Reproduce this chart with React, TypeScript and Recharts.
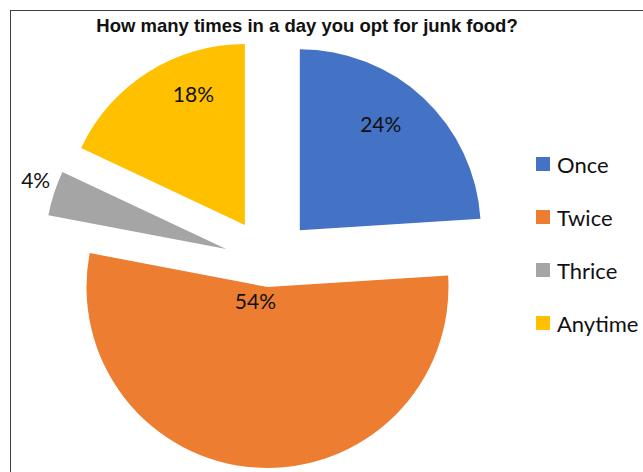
import { Cell, Pie, PieChart } from "recharts";

const categories = ["Once", "Twice", "Thrice", "Anytime"];
const shares = [24, 54, 4, 18];
const colors = ["#4472C4", "#ED7D31", "#A5A5A5", "#FFC000"];

const data = categories.map((name, i) => ({ name, value: shares[i] }));

// layout (Excel-style exploded pie)
const CENTER = { x: 269, y: 263 };
const RADIUS = 181;
const explode = [45, 24, 45, 45];
// label radius as fraction of outer radius, plus angle shift (deg, clockwise)
const labelPlacement = [
  { r: 0.74, shift: -6 },
  { r: 0.1, shift: 38 },
  { r: 1.12, shift: 2 },
  { r: 0.78, shift: 11 },
];

const total = shares.reduce((a, b) => a + b, 0);
const rad = (deg: number) => (deg * Math.PI) / 180;

// mid angle of each slice, clockwise from 12 o'clock
const midAngles = shares.map((v, i) => {
  const before = shares.slice(0, i).reduce((a, b) => a + b, 0);
  return ((before + v / 2) / total) * 360;
});

const centers = midAngles.map((a, i) => ({
  x: CENTER.x + explode[i] * Math.sin(rad(a)),
  y: CENTER.y - explode[i] * Math.cos(rad(a)),
}));

function makeLabel(target: number) {
  return (props: any) => {
    if (props.index !== target) return null;
    const { r, shift } = labelPlacement[target];
    const a = rad(midAngles[target] + shift);
    const x = centers[target].x + RADIUS * r * Math.sin(a);
    const y = centers[target].y - RADIUS * r * Math.cos(a);
    return (
      <text
        x={x}
        y={y}
        textAnchor="middle"
        dominantBaseline="central"
        fill="#111"
        fontFamily="Lato, sans-serif"
        fontSize={21}
      >
        {`${shares[target]}%`}
      </text>
    );
  };
}

export default function App() {
  return (
    <div
      style={{
        position: "absolute",
        left: 0,
        top: 0,
        width: 643,
        height: 472,
        overflow: "hidden",
        background: "#fff",
      }}
    >
      <div
        style={{
          position: "absolute",
          left: 10,
          top: 10,
          width: 700,
          height: 600,
          border: "1.5px solid #404040",
        }}
      />
      <div
        style={{
          position: "absolute",
          left: 0,
          top: 15.6,
          width: 614,
          textAlign: "center",
          fontFamily: "'Liberation Sans', Arial, sans-serif",
          fontWeight: 700,
          fontSize: 18.5,
          lineHeight: "20px",
          color: "#111",
          whiteSpace: "nowrap",
        }}
      >
        How many times in a day you opt for junk food?
      </div>

      <div style={{ position: "absolute", left: 0, top: 0 }}>
        <PieChart width={643} height={472} margin={{ top: 0, right: 0, bottom: 0, left: 0 }}>
          {categories.map((_, target) => (
            <Pie
              key={target}
              data={data}
              dataKey="value"
              nameKey="name"
              cx={centers[target].x}
              cy={centers[target].y}
              outerRadius={RADIUS}
              startAngle={90}
              endAngle={-270}
              stroke="none"
              isAnimationActive={false}
              labelLine={false}
              label={makeLabel(target)}
              legendType="none"
            >
              {data.map((_, i) => (
                <Cell key={i} fill={i === target ? colors[i] : "transparent"} />
              ))}
            </Pie>
          ))}
        </PieChart>
      </div>

      <div style={{ position: "absolute", left: 536, top: 137.5 }}>
        {categories.map((name, i) => (
          <div
            key={name}
            style={{ display: "flex", alignItems: "center", height: 53 }}
          >
            <span
              style={{
                width: 14,
                height: 14,
                background: colors[i],
                marginRight: 7,
                flex: "none",
              }}
            />
            <span
              style={{
                fontFamily: "Lato, sans-serif",
                fontSize: 22,
                color: "#111",
                whiteSpace: "nowrap",
              }}
            >
              {name}
            </span>
          </div>
        ))}
      </div>
    </div>
  );
}
